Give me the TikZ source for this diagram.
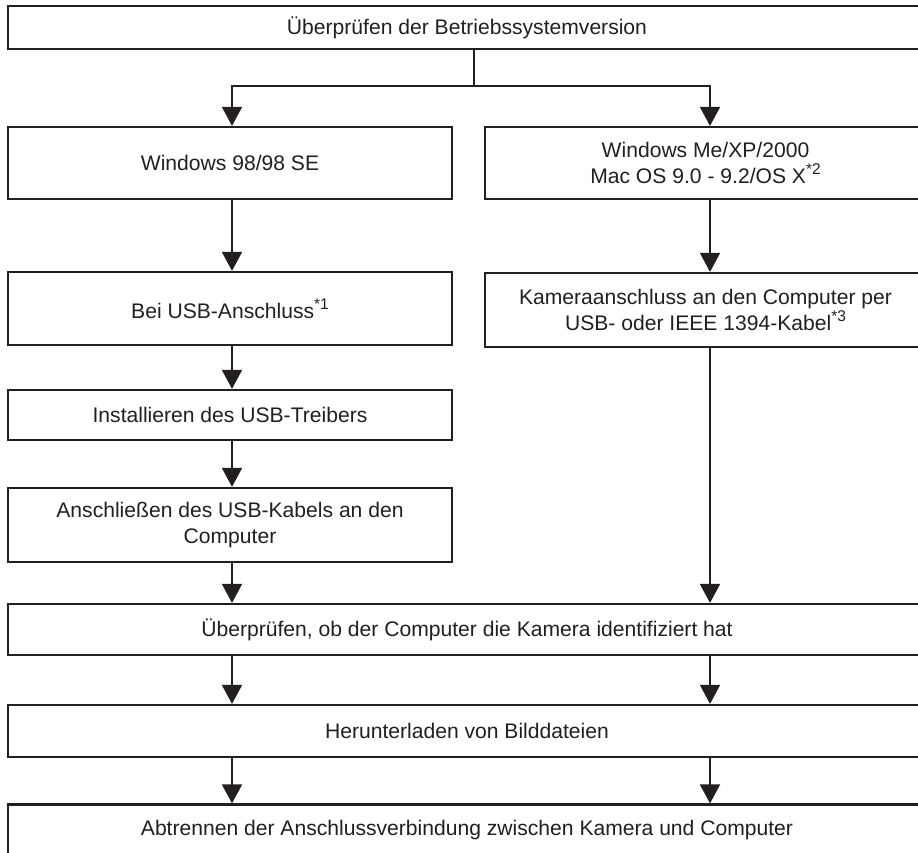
\documentclass[tikz,border=0pt]{standalone}
\usepackage{fontspec}
\setmainfont{Liberation Sans}
\usetikzlibrary{arrows.meta,calc}
\definecolor{ink}{HTML}{231F20}
\newcommand{\fnmark}[1]{\raisebox{0.42em}{\fontsize{15.5}{15.5}\selectfont #1}}
\begin{document}
\begin{tikzpicture}[x=1pt,y=-1pt,
  box/.style={draw=ink,line width=2.2pt,inner sep=0pt,align=center,text=ink,
    font=\fontsize{21.1}{26}\selectfont},
  arr/.style={draw=ink,line width=1.7pt,-{Triangle[length=19pt,width=20pt]}},
  ln/.style={draw=ink,line width=1.7pt}]
\useasboundingbox (0,0) rectangle (918,852);
\clip (0,0) rectangle (918,852);
\fill[white] (0,0) rectangle (918,852);
\coordinate (colL) at (232,0);
\coordinate (colR) at (710,0);
\coordinate (split) at (474,86);
\node[box,minimum width=918pt,minimum height=43pt] (top) at (467,27.5) {Überprüfen der Betriebssystemversion};
\node[box,minimum width=444pt,minimum height=72pt] (win) at (230,163) {Windows 98/98 SE};
\node[box,minimum width=441pt,minimum height=72pt] (me) at (705.5,163) {Windows Me/XP/2000\\Mac OS 9.0 - 9.2/OS X\fnmark{*2}};
\node[box,minimum width=444pt,minimum height=73pt] (bei) at (230,308.5) {Bei USB-Anschluss\fnmark{*1}};
\node[box,minimum width=441pt,minimum height=74pt] (kam) at (705.5,310) {Kameraanschluss an den Computer per\\USB- oder IEEE 1394-Kabel\fnmark{*3}};
\node[box,minimum width=444pt,minimum height=50pt] (inst) at (230,415) {Installieren des USB-Treibers};
\node[box,minimum width=444pt,minimum height=74pt] (ansch) at (230,525) {Anschließen des USB-Kabels an den\\Computer};
\node[box,minimum width=918pt,minimum height=51pt] (chk) at (467,629.5) {Überprüfen, ob der Computer die Kamera identifiziert hat};
\node[box,minimum width=918pt,minimum height=52pt] (dl) at (467,731) {Herunterladen von Bilddateien};
\node[box,minimum width=918pt,minimum height=52pt] (ab) at (467,830.5) {Abtrennen der Anschlussverbindung zwischen Kamera und Computer};
% connectors
\draw[ln] (top.south -| split) -- (split);
\draw[arr] (split) -- (colL |- split) -- (colL |- win.north);
\draw[arr] (split) -- (colR |- split) -- (colR |- me.north);
\draw[arr] (colL |- win.south) -- (colL |- bei.north);
\draw[arr] (colR |- me.south) -- (colR |- kam.north);
\draw[arr] (colL |- bei.south) -- (colL |- inst.north);
\draw[arr] (colL |- inst.south) -- (colL |- ansch.north);
\draw[arr] (colL |- ansch.south) -- (colL |- chk.north);
\draw[arr] (colR |- kam.south) -- (colR |- chk.north);
\draw[arr] (colL |- chk.south) -- (colL |- dl.north);
\draw[arr] (colR |- chk.south) -- (colR |- dl.north);
\draw[arr] (colL |- dl.south) -- (colL |- ab.north);
\draw[arr] (colR |- dl.south) -- (colR |- ab.north);
\end{tikzpicture}
\end{document}
